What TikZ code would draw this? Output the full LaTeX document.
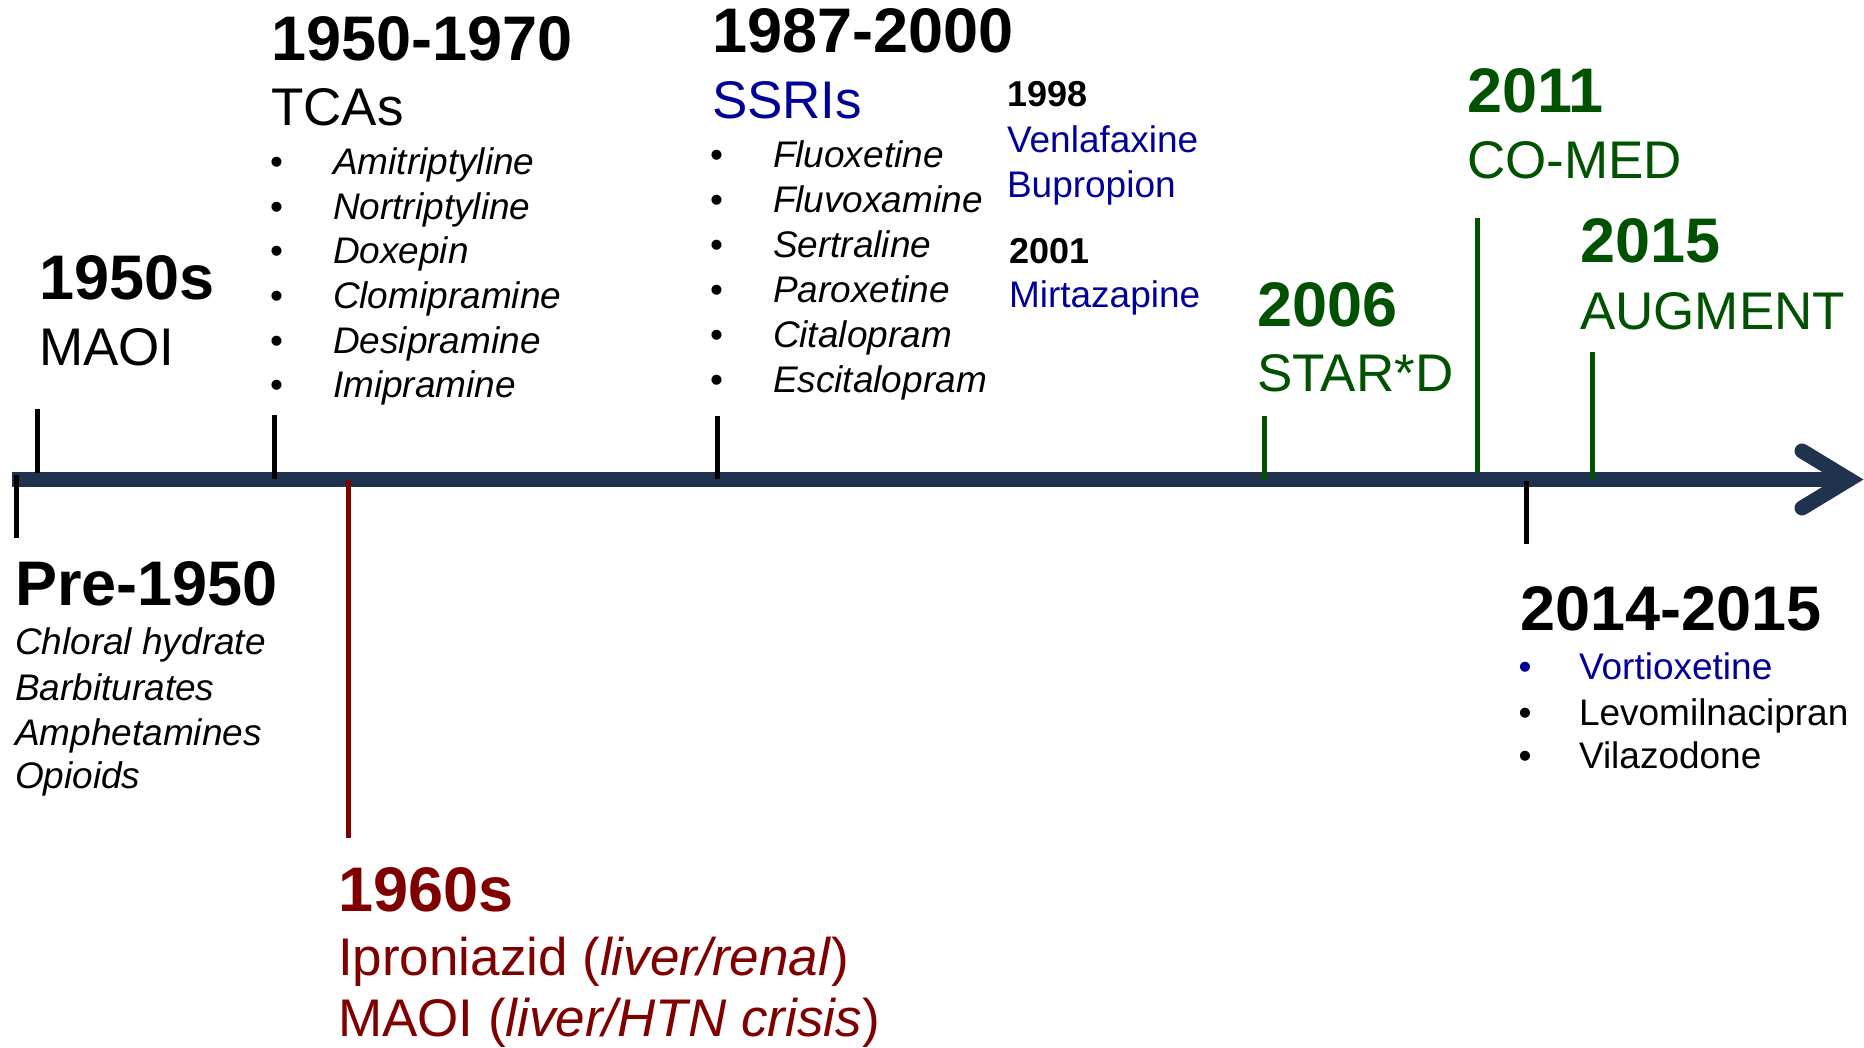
\documentclass[tikz,border=0pt]{standalone}
\usepackage{fontspec}
\setmainfont{Liberation Sans}

\definecolor{axisblue}{RGB}{31,50,78}
\definecolor{eradred}{RGB}{128,0,0}
\definecolor{trialgreen}{RGB}{0,82,0}
\definecolor{drugblue}{RGB}{0,0,153}

\tikzset{
  txt/.style={anchor=base west, inner sep=0pt, outer sep=0pt},
  yearbig/.style={txt, font=\fontsize{63}{63}\selectfont\bfseries},
  yearsmall/.style={txt, font=\fontsize{36}{36}\selectfont\bfseries},
  groupname/.style={txt, font=\fontsize{53}{53}\selectfont},
  drug/.style={txt, font=\fontsize{37}{37}\selectfont},
  drugit/.style={txt, font=\fontsize{37}{37}\selectfont\itshape},
  bulletmark/.style={anchor=base, inner sep=0pt, outer sep=0pt, font=\fontsize{37}{37}\selectfont},
  tickline/.style={line width=5pt},
  axisline/.style={line width=15pt, axisblue},
}

\begin{document}
\begin{tikzpicture}[x=1pt, y=-1pt]
\useasboundingbox (0,0) rectangle (1864,1048);

% ---- time axis with open chevron head ----
\coordinate (axstart) at (12,479.5);
\coordinate (axend) at (1846,479.5);
\coordinate (headtop) at (1802,451);
\coordinate (headtip) at (1849,479.5);
\coordinate (headbot) at (1802,508);
\draw[axisline, line cap=butt] (axstart) -- (axend);
\draw[axisline, line cap=round, line join=miter] (headtop) -- (headtip) -- (headbot);

% ---- tick marks ----
\coordinate (preA) at (16,475);    \coordinate (preB) at (16,538);
\coordinate (maoA) at (37,409);    \coordinate (maoB) at (37,473);
\coordinate (tcaA) at (274,415);   \coordinate (tcaB) at (274,479);
\coordinate (ipzA) at (348,480);   \coordinate (ipzB) at (348,838);
\coordinate (ssrA) at (717,416);   \coordinate (ssrB) at (717,479);
\coordinate (stdA) at (1264,416);  \coordinate (stdB) at (1264,480);
\coordinate (comA) at (1477,218);  \coordinate (comB) at (1477,472);
\coordinate (augA) at (1592,352);  \coordinate (augB) at (1592,479);
\coordinate (newA) at (1526,481);  \coordinate (newB) at (1526,544);

\draw[tickline, black] (preA) -- (preB);
\draw[tickline, black] (maoA) -- (maoB);
\draw[tickline, black] (tcaA) -- (tcaB);
\draw[tickline, eradred] (ipzA) -- (ipzB);
\draw[tickline, black] (ssrA) -- (ssrB);
\draw[tickline, trialgreen] (stdA) -- (stdB);
\draw[tickline, trialgreen] (comA) -- (comB);
\draw[tickline, trialgreen] (augA) -- (augB);
\draw[tickline, black] (newA) -- (newB);

% ---- 1950s ----
\node[yearbig] (y1950s) at (39,300) {1950s};
\node[groupname] (maoi) at (39,366) {MAOI};

% ---- 1950-1970 ----
\node[yearbig] (y1950) at (271,61) {1950-1970};
\node[groupname] (tcas) at (271,126) {TCAs};
\foreach \name/\yy [count=\i] in {Amitriptyline/175, Nortriptyline/220, Doxepin/264,
    Clomipramine/309, Desipramine/354, Imipramine/398} {
  \node[bulletmark] (tcab\i) at (276.5,\yy) {•};
  \node[drugit] (tca\i) at (333,\yy) {\name};
}

% ---- 1987-2000 ----
\node[yearbig] (y1987) at (712,53) {1987-2000};
\node[groupname, text=drugblue] (ssris) at (712,119) {SSRIs};
\foreach \name/\yy [count=\i] in {Fluoxetine/168, Fluvoxamine/213, Sertraline/258,
    Paroxetine/303, Citalopram/348, Escitalopram/393} {
  \node[bulletmark] (ssrb\i) at (716.5,\yy) {•};
  \node[drugit] (ssr\i) at (773,\yy) {\name};
}

% ---- 1998 / 2001 ----
\node[yearsmall] (y1998) at (1007,107) {1998};
\node[drug, text=drugblue] (venla) at (1007,153) {Venlafaxine};
\node[drug, text=drugblue] (bupro) at (1007,198) {Bupropion};
\node[yearsmall] (y2001) at (1009,264) {2001};
\node[drug, text=drugblue] (mirta) at (1009,308) {Mirtazapine};

% ---- trials ----
\node[yearbig, text=trialgreen] (y2006) at (1257,327) {2006};
\node[groupname, text=trialgreen] (stard) at (1257,392) {STAR*D};
\node[yearbig, text=trialgreen] (y2011) at (1467,113) {2011};
\node[groupname, text=trialgreen] (comed) at (1467,179) {CO-MED};
\node[yearbig, text=trialgreen] (y2015) at (1580,263) {2015};
\node[groupname, text=trialgreen] (augment) at (1580,330) {AUGMENT};

% ---- Pre-1950 ----
\node[yearbig] (ypre) at (15,605) {Pre-1950};
\node[drugit] (chloral) at (15,654) {Chloral hydrate};
\node[drugit] (barb) at (15,700) {Barbiturates};
\node[drugit] (amph) at (15,745) {Amphetamines};
\node[drugit] (opioid) at (15,788) {Opioids};

% ---- 2014-2015 ----
\node[yearbig] (y2014) at (1520,630) {2014-2015};
\node[bulletmark, text=drugblue] (newb1) at (1525,679) {•};
\node[drug, text=drugblue] (vortio) at (1579,679) {Vortioxetine};
\node[bulletmark] (newb2) at (1525,725) {•};
\node[drug] (levo) at (1579,725) {Levomilnacipran};
\node[bulletmark] (newb3) at (1525,768) {•};
\node[drug] (vila) at (1579,768) {Vilazodone};

% ---- 1960s ----
\node[yearbig, text=eradred] (y1960s) at (338,911) {1960s};
\node[groupname, text=eradred] (ipro) at (338,975) {Iproniazid (\textit{liver/renal})};
\node[groupname, text=eradred] (maoirisk) at (338,1036) {MAOI (\textit{liver/HTN crisis})};

\end{tikzpicture}
\end{document}
